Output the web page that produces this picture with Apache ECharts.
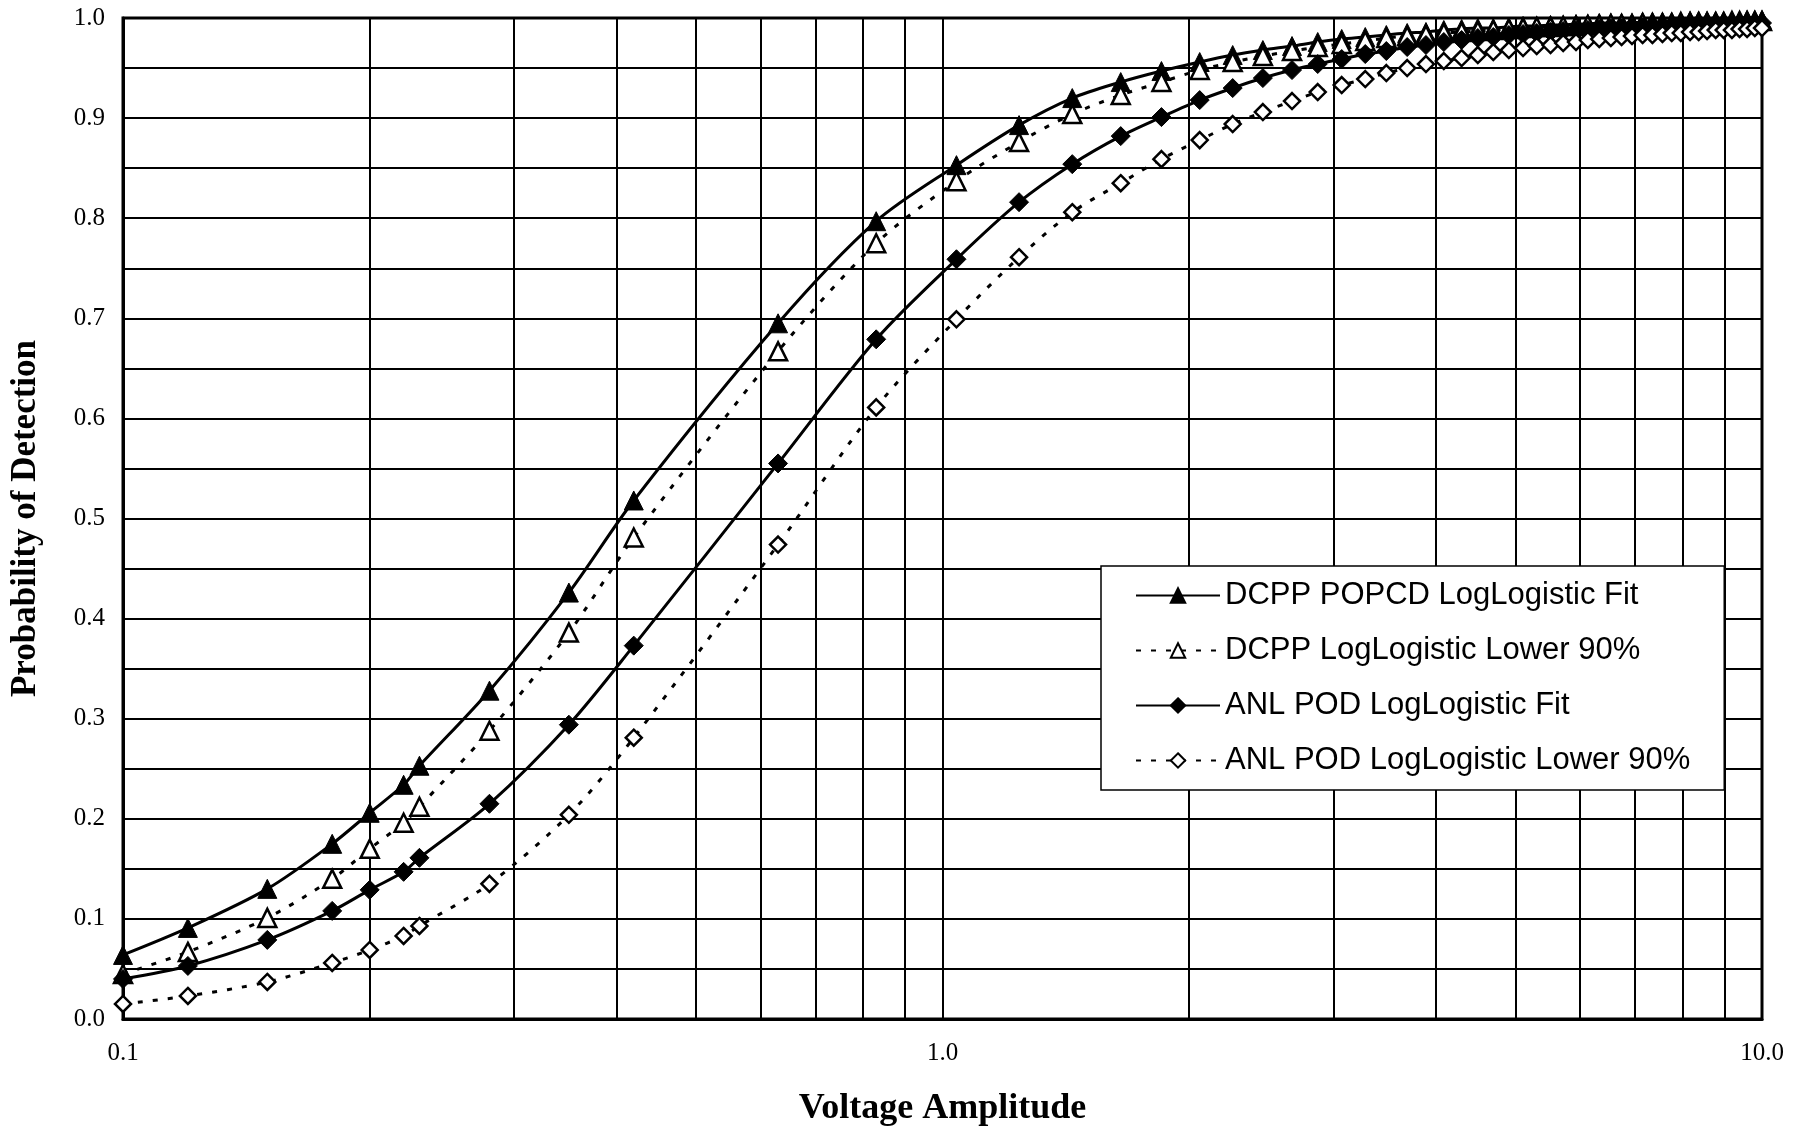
<!DOCTYPE html>
<html>
<head>
<meta charset="utf-8">
<script src="https://cdn.jsdelivr.net/npm/echarts@6/dist/echarts.min.js"></script>
<style>
  html, body { margin: 0; padding: 0; background: #fff; }
  #chart { width: 1802px; height: 1132px; }
</style>
</head>
<body>
<div id="chart"></div>
<script>
// voltage amplitude at each marker
const voltage = [0.1, 0.12, 0.15, 0.18, 0.2, 0.22, 0.23, 0.28, 0.35, 0.42,
  0.63, 0.83, 1.04, 1.24, 1.44, 1.65, 1.85, 2.06, 2.26, 2.46, 2.67, 2.87, 3.07, 3.28, 3.48,
  3.69, 3.89, 4.09, 4.30, 4.50, 4.70, 4.91, 5.11, 5.31, 5.52, 5.72, 5.93, 6.13, 6.33, 6.54,
  6.74, 6.94, 7.15, 7.35, 7.56, 7.76, 7.96, 8.17, 8.37, 8.57, 8.78, 8.98, 9.19, 9.39, 9.59,
  9.80, 10.0];

const dcppFit = [0.064, 0.091, 0.130, 0.175, 0.206, 0.234, 0.253, 0.328, 0.426, 0.518,
  0.695, 0.797, 0.853, 0.893, 0.920, 0.936, 0.947, 0.956, 0.963, 0.968, 0.972, 0.976, 0.979, 0.981, 0.983,
  0.985, 0.986, 0.988, 0.989, 0.990, 0.990, 0.991, 0.992, 0.992, 0.993, 0.993, 0.994, 0.994, 0.995, 0.995,
  0.995, 0.995, 0.996, 0.996, 0.996, 0.996, 0.996, 0.997, 0.997, 0.997, 0.997, 0.997, 0.997, 0.997, 0.998,
  0.998, 0.998];

const dcppLower = [0.045, 0.067, 0.101, 0.140, 0.170, 0.196, 0.212, 0.288, 0.386, 0.481,
  0.667, 0.775, 0.837, 0.876, 0.904, 0.923, 0.936, 0.948, 0.956, 0.962, 0.967, 0.971, 0.974, 0.977, 0.980,
  0.982, 0.983, 0.985, 0.986, 0.987, 0.988, 0.989, 0.990, 0.991, 0.991, 0.992, 0.992, 0.993, 0.993, 0.994,
  0.994, 0.994, 0.995, 0.995, 0.995, 0.995, 0.996, 0.996, 0.996, 0.996, 0.996, 0.996, 0.997, 0.997, 0.997,
  0.997, 0.997];

const anlFit = [0.040, 0.053, 0.079, 0.108, 0.129, 0.147, 0.161, 0.215, 0.294, 0.373,
  0.555, 0.679, 0.759, 0.816, 0.854, 0.882, 0.901, 0.918, 0.930, 0.940, 0.948, 0.954, 0.959, 0.964, 0.967,
  0.971, 0.973, 0.976, 0.978, 0.980, 0.981, 0.983, 0.984, 0.985, 0.986, 0.987, 0.988, 0.988, 0.989, 0.990,
  0.990, 0.991, 0.991, 0.992, 0.992, 0.992, 0.993, 0.993, 0.993, 0.994, 0.994, 0.994, 0.994, 0.995, 0.995,
  0.995, 0.995];

const anlLower = [0.015, 0.023, 0.037, 0.056, 0.069, 0.083, 0.093, 0.135, 0.204, 0.281,
  0.474, 0.611, 0.699, 0.761, 0.806, 0.835, 0.859, 0.878, 0.894, 0.906, 0.917, 0.926, 0.933, 0.939, 0.945,
  0.950, 0.954, 0.957, 0.960, 0.963, 0.966, 0.968, 0.970, 0.972, 0.973, 0.975, 0.976, 0.978, 0.979, 0.980,
  0.981, 0.982, 0.983, 0.983, 0.984, 0.985, 0.985, 0.986, 0.986, 0.987, 0.988, 0.988, 0.988, 0.989, 0.989,
  0.990, 0.990];

// log grid lines between the decades
const minorVoltage = [0.2, 0.3, 0.4, 0.5, 0.6, 0.7, 0.8, 0.9, 2, 3, 4, 5, 6, 7, 8, 9];

const names = ['DCPP POPCD LogLogistic Fit', 'DCPP LogLogistic Lower 90%',
  'ANL POD LogLogistic Fit', 'ANL POD LogLogistic Lower 90%'];

const serif = 'Liberation Serif, Times New Roman, serif';

function pairs(ys) {
  return voltage.map((x, i) => [x, ys[i]]);
}

function makeSeries(name, ys, symbol, filled, dotted, size) {
  return {
    name: name,
    type: 'line',
    data: pairs(ys),
    smooth: 0.3,
    showSymbol: true,
    showAllSymbol: true,
    symbol: symbol,
    symbolSize: size,
    lineStyle: dotted
      ? { color: '#000', width: 3, type: [5, 10] }
      : { color: '#000', width: 3, type: 'solid' },
    itemStyle: filled
      ? { color: '#000', borderColor: '#000', borderWidth: 1 }
      : { color: '#fff', borderColor: '#000', borderWidth: 2.5 },
    emphasis: { disabled: true },
    z: 3
  };
}

const chart = echarts.init(document.getElementById('chart'));

const series = [
  makeSeries(names[0], dcppFit, 'triangle', true, false, 19),
  makeSeries(names[1], dcppLower, 'triangle', false, true, 18),
  makeSeries(names[2], anlFit, 'diamond', true, false, 19),
  makeSeries(names[3], anlLower, 'diamond', false, true, 16)
];

series[0].markLine = {
  silent: true,
  symbol: 'none',
  label: { show: false },
  lineStyle: { color: '#000', width: 2, type: 'solid' },
  data: minorVoltage.map(v => ({ xAxis: v })),
  z: 1
};

chart.setOption({
  animation: false,
  backgroundColor: '#fff',
  grid: {
    left: 123, right: 40, top: 18, bottom: 113,
    show: true, borderColor: '#000', borderWidth: 3
  },
  legend: {
    orient: 'vertical',
    left: 1101,
    top: 566,
    backgroundColor: '#fff',
    borderColor: '#000',
    borderWidth: 1.5,
    padding: [14, 34, 14, 34],
    itemWidth: 84,
    itemHeight: 18,
    itemGap: 24,
    data: names,
    textStyle: {
      fontFamily: 'Liberation Sans Narrow, Arial Narrow, Liberation Sans, sans-serif',
      fontSize: 31,
      color: '#000',
      lineHeight: 28
    }
  },
  xAxis: {
    type: 'log',
    logBase: 10,
    min: 0.1,
    max: 10,
    name: 'Voltage Amplitude',
    nameLocation: 'middle',
    nameGap: 72,
    nameTextStyle: { fontFamily: serif, fontWeight: 'bold', fontSize: 36, color: '#000' },
    axisLine: { lineStyle: { color: '#000', width: 3 } },
    axisTick: { show: false },
    axisLabel: {
      fontFamily: serif, fontSize: 25, color: '#000', margin: 22,
      formatter: v => Number(v).toFixed(1)
    },
    splitLine: { show: true, lineStyle: { color: '#000', width: 2 } }
  },
  yAxis: {
    type: 'value',
    min: 0,
    max: 1,
    interval: 0.1,
    name: 'Probability of Detection',
    nameLocation: 'middle',
    nameGap: 80,
    nameTextStyle: { fontFamily: serif, fontWeight: 'bold', fontSize: 35, color: '#000' },
    axisLine: { lineStyle: { color: '#000', width: 3 } },
    axisTick: { show: false },
    axisLabel: {
      fontFamily: serif, fontSize: 25, color: '#000', margin: 18,
      formatter: v => v.toFixed(1)
    },
    splitLine: { show: true, lineStyle: { color: '#000', width: 2 } },
    minorTick: { show: false, splitNumber: 2 },
    minorSplitLine: { show: true, lineStyle: { color: '#000', width: 2 } }
  },
  series: series
});
</script>
</body>
</html>
